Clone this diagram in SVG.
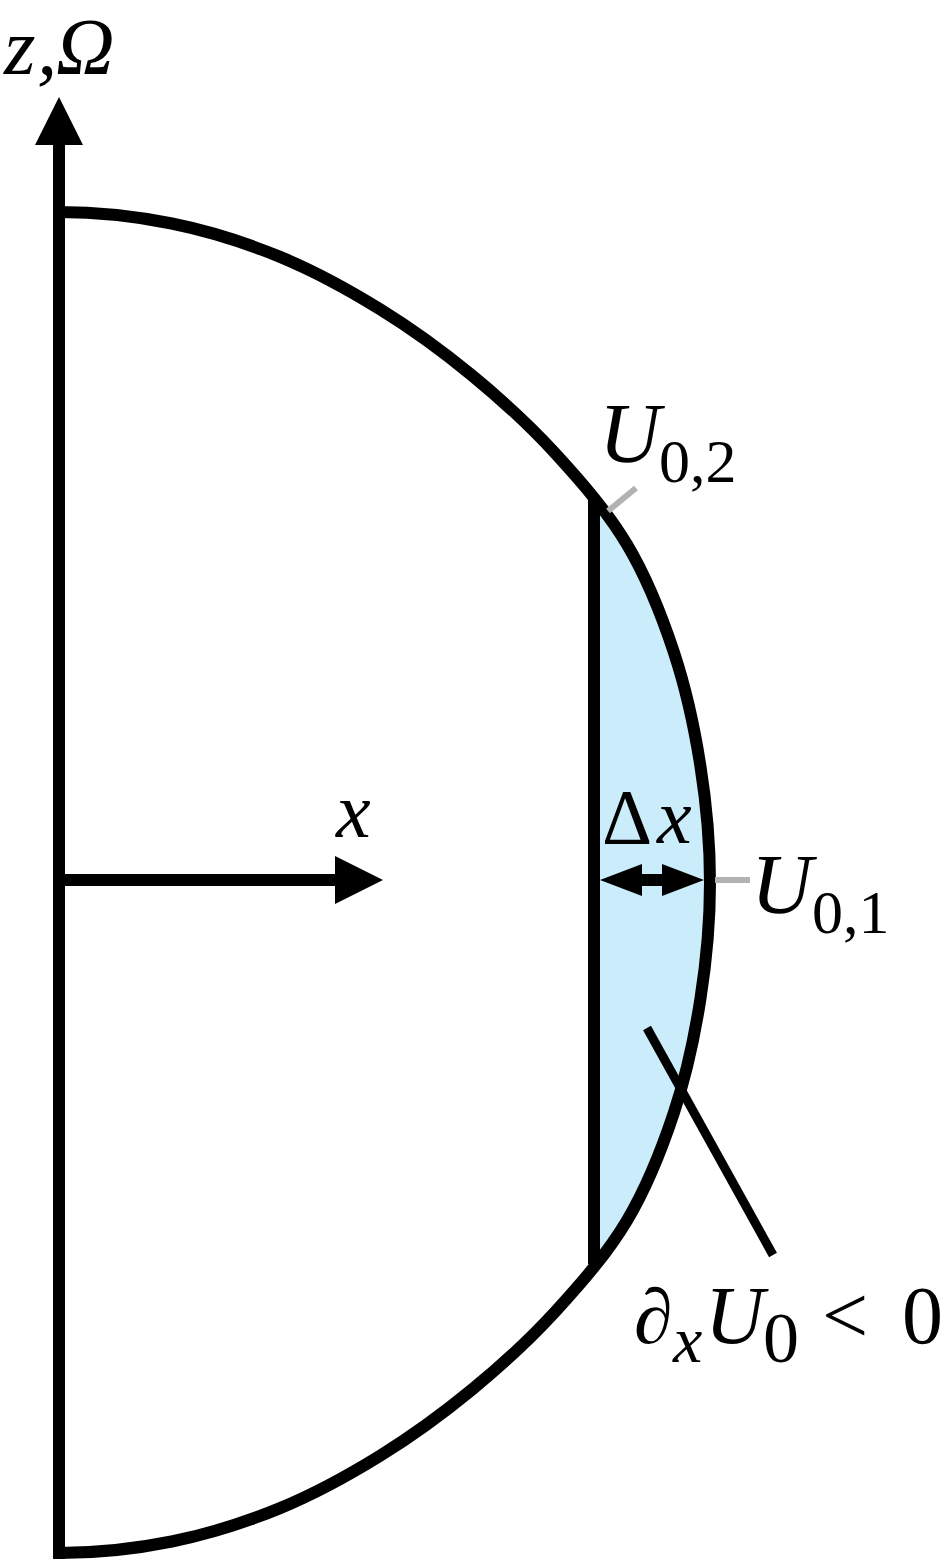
<svg xmlns="http://www.w3.org/2000/svg" width="945" height="1560" viewBox="0 0 945 1560">
  <style>
    .stk { fill: none; stroke: #000; stroke-width: 12; }
    .lead { fill: none; stroke: #b2b2b2; stroke-width: 6; }
    .blk { fill: #000; stroke: none; }
    .t { font-family: "Liberation Serif", "Times New Roman", serif; fill: #000; }
    .i { font-style: italic; }
  </style>
  <defs>
    <path id="outline" d="M59,212 C96.9,212 134.7,216 171.8,223.5 C208.9,231 245.2,242.5 280.1,256.9 C315,271.3 348.3,289.6 380.3,309.4 C412.4,329.2 442.9,351.5 472.1,375.5 C501.3,399.5 529.5,425.2 555.4,453.5 C581.3,481.8 607.1,511.2 627.1,544.7 C647.1,578.2 661.5,614.9 673.8,652 C686.1,689.1 694.4,727.5 700.4,766 C706.5,804.5 710,843.5 710,882.5 C710,921.5 706.5,960.5 700.4,999 C694.4,1037.5 686.1,1075.9 673.8,1113 C661.5,1150.1 647.1,1186.8 627.1,1220.3 C607.1,1253.8 581.3,1283.2 555.4,1311.5 C529.5,1339.8 501.3,1365.5 472.1,1389.5 C442.9,1413.5 412.4,1435.8 380.3,1455.6 C348.3,1475.4 315,1493.7 280.1,1508.1 C245.2,1522.5 208.9,1534 171.8,1541.5 C134.7,1549 96.9,1553 59,1553"/>
    <clipPath id="rightpart">
      <rect x="594" y="0" width="300" height="1560"/>
    </clipPath>
  </defs>

  <g id="region-fill">
    <use href="#outline" fill="#cbedfb" stroke="none" clip-path="url(#rightpart)"/>
  </g>

  <g id="inner-boundary">
    <line class="stk" x1="594" y1="500" x2="594" y2="1264"/>
  </g>

  <g id="outer-boundary">
    <use href="#outline" class="stk"/>
  </g>

  <g id="connectors">
    <line class="stk" x1="59" y1="1559" x2="59" y2="140"/>
    <polygon class="blk" points="59,97 83,145 35,145"/>
    <line class="stk" x1="59" y1="880" x2="338" y2="880"/>
    <polygon class="blk" points="383,880 335,856 335,904"/>
    <line class="stk" x1="640" y1="880" x2="664" y2="880"/>
    <polygon class="blk" points="600,880 642,864 642,896"/>
    <polygon class="blk" points="704,880 662,864 662,896"/>
    <line class="lead" x1="608" y1="511" x2="636" y2="488"/>
    <line class="lead" x1="715" y1="880" x2="750" y2="880"/>
    <line fill="none" stroke="#000" stroke-width="9" x1="647" y1="1028" x2="773" y2="1255"/>
  </g>

  <g id="label-z-omega">
    <text class="t i" y="74" font-size="81"><tspan x="4">z</tspan><tspan x="37">,</tspan><tspan x="56">Ω</tspan></text>
  </g>
  <g id="label-x">
    <text class="t i" x="336" y="837" font-size="78">x</text>
  </g>
  <g id="label-U02">
    <text class="t" y="462" font-size="85"><tspan class="i" x="599">U</tspan><tspan x="659" y="482" font-size="62">0,2</tspan></text>
  </g>
  <g id="label-dx">
    <text class="t" y="843" font-size="78"><tspan x="602">Δ</tspan><tspan class="i" x="657">x</tspan></text>
  </g>
  <g id="label-U01">
    <text class="t" y="913" font-size="85"><tspan class="i" x="751">U</tspan><tspan x="812" y="933" font-size="62">0,1</tspan></text>
  </g>
  <g id="label-derivative">
    <text class="t" font-size="82"><tspan x="634" y="1343" font-size="78">∂</tspan><tspan class="i" x="673" y="1362" font-size="66">x</tspan><tspan class="i" x="705" y="1343">U</tspan><tspan x="763" y="1362" font-size="72">0</tspan><tspan x="822" y="1343">&lt;</tspan><tspan x="902" y="1343">0</tspan></text>
  </g>
</svg>
